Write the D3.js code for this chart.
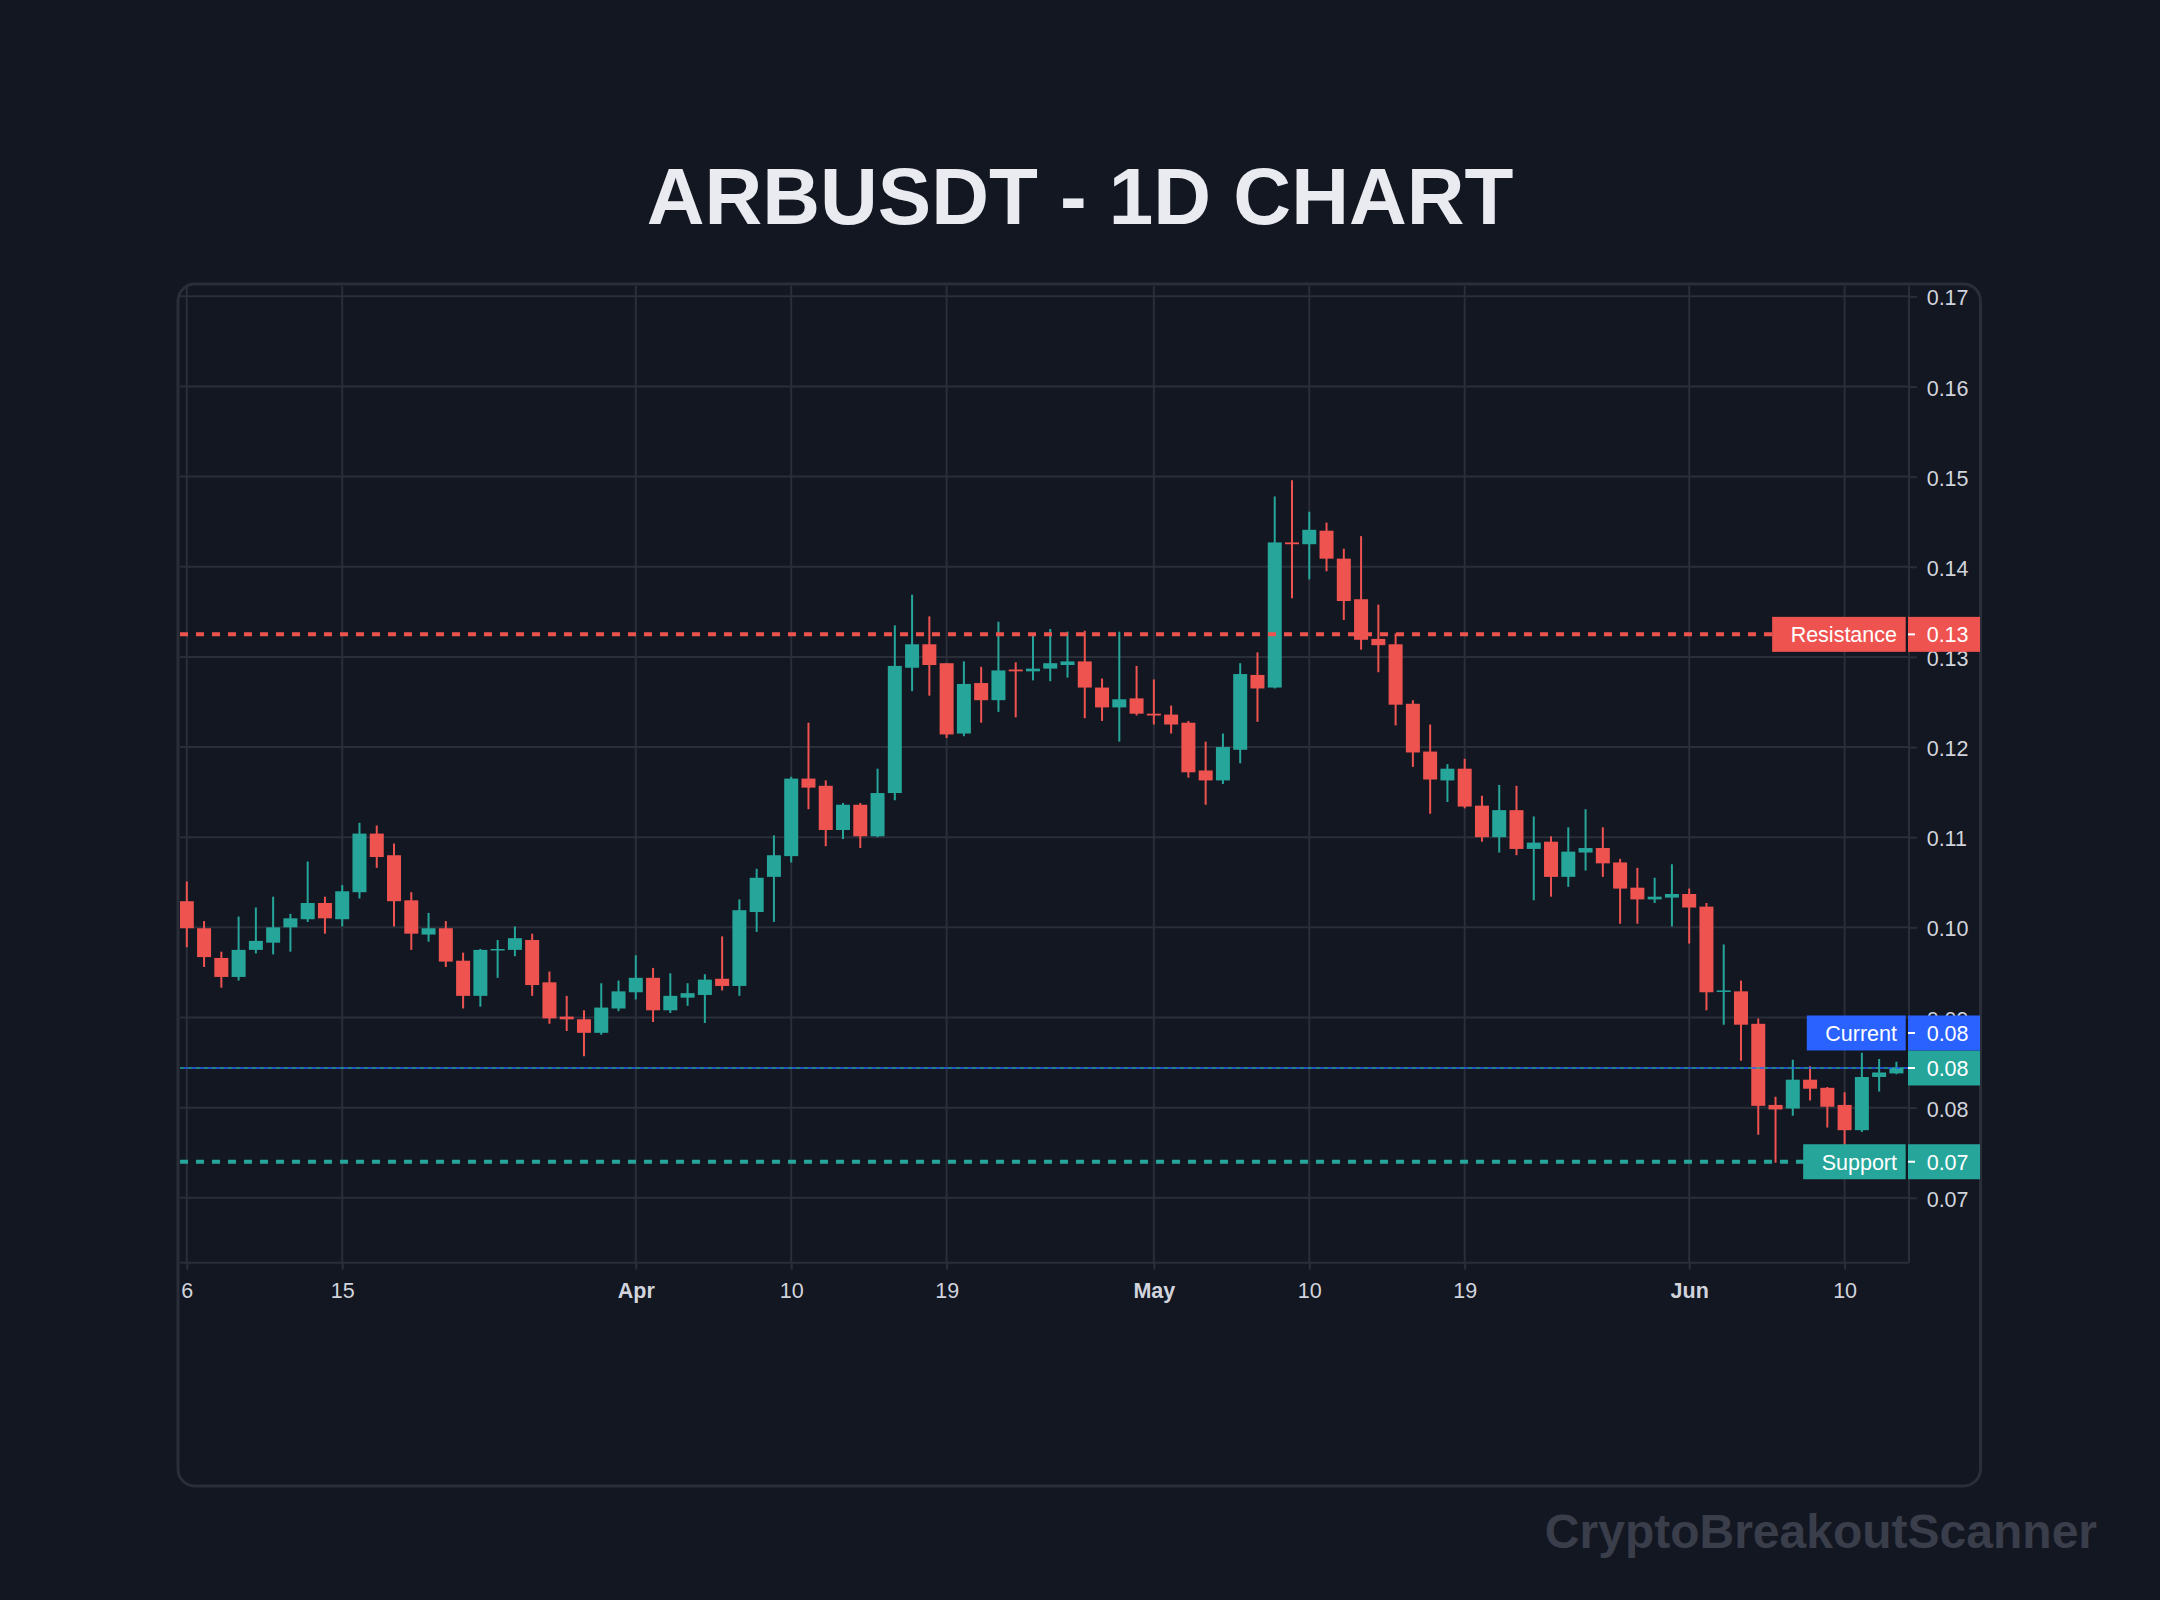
<!DOCTYPE html>
<html><head><meta charset="utf-8">
<script src="https://cdnjs.cloudflare.com/ajax/libs/d3/7.8.5/d3.min.js"></script>
<style>html,body{margin:0;padding:0;background:#131722;}svg{display:block;}</style>
</head><body>
<svg id="chart" width="2160" height="1600"></svg>
<script>
// ---------------- DATA ----------------
const firstDay = "2025-03-06";
const opens  = [0.1029,0.0999,0.0966,0.0945,0.0975,0.0983,0.1000,0.1009,0.1027,0.1009,
                0.1039,0.1104,0.1080,0.1030,0.0992,0.0999,0.0963,0.0924,0.0975,0.0975,
                0.0986,0.0939,0.0901,0.0898,0.0883,0.0910,0.0928,0.0944,0.0908,0.0922,
                0.0925,0.0943,0.0935,0.1017,0.1056,0.1079,0.1165,0.1157,0.1108,0.1136,
                0.1101,0.1149,0.1288,0.1314,0.1293,0.1215,0.1271,0.1252,0.1286,0.1284,
                0.1287,0.1291,0.1295,0.1266,0.1244,0.1254,0.1237,0.1236,0.1227,0.1174,
                0.1163,0.1197,0.1280,0.1266,0.1427,0.1425,0.1440,0.1409,0.1364,0.1320,
                0.1314,0.1248,0.1195,0.1163,0.1176,0.1135,0.1100,0.1130,0.1087,0.1095,
                0.1056,0.1083,0.1088,0.1072,0.1044,0.1031,0.1033,0.1037,0.1023,0.0929,
                0.0929,0.0893,0.0803,0.0799,0.0831,0.0822,0.0803,0.0775,0.0834,0.0838];
const highs  = [0.1051,0.1007,0.0973,0.1012,0.1022,0.1034,0.1015,0.1073,0.1034,0.1047,
                0.1116,0.1113,0.1093,0.1039,0.1016,0.1007,0.0972,0.0976,0.0986,0.1001,
                0.0993,0.0951,0.0924,0.0908,0.0938,0.0941,0.0969,0.0955,0.0949,0.0938,
                0.0948,0.0990,0.1031,0.1065,0.1102,0.1167,0.1227,0.1163,0.1138,0.1138,
                0.1176,0.1335,0.1369,0.1345,0.1293,0.1295,0.1289,0.1339,0.1294,0.1325,
                0.1331,0.1328,0.1329,0.1276,0.1328,0.1290,0.1275,0.1246,0.1229,0.1206,
                0.1215,0.1293,0.1305,0.1478,0.1496,0.1461,0.1449,0.1420,0.1434,0.1358,
                0.1326,0.1252,0.1225,0.1181,0.1187,0.1146,0.1158,0.1157,0.1123,0.1101,
                0.1111,0.1131,0.1111,0.1076,0.1066,0.1055,0.1070,0.1043,0.1027,0.0981,
                0.0941,0.0899,0.0812,0.0853,0.0846,0.0823,0.0817,0.0861,0.0854,0.0851];
const lows   = [0.0978,0.0956,0.0933,0.0941,0.0971,0.0970,0.0973,0.1006,0.0993,0.1001,
                0.1032,0.1066,0.1001,0.0975,0.0984,0.0956,0.0910,0.0912,0.0944,0.0968,
                0.0924,0.0893,0.0885,0.0857,0.0881,0.0907,0.0920,0.0895,0.0905,0.0913,
                0.0894,0.0930,0.0924,0.0995,0.1006,0.1072,0.1131,0.1090,0.1098,0.1088,
                0.1100,0.1141,0.1262,0.1257,0.1210,0.1212,0.1227,0.1239,0.1233,0.1274,
                0.1273,0.1277,0.1232,0.1229,0.1206,0.1235,0.1225,0.1215,0.1166,0.1136,
                0.1159,0.1182,0.1228,0.1265,0.1365,0.1386,0.1395,0.1341,0.1308,0.1283,
                0.1224,0.1178,0.1126,0.1139,0.1132,0.1095,0.1083,0.1080,0.1030,0.1034,
                0.1045,0.1063,0.1056,0.1004,0.1004,0.1027,0.1001,0.0982,0.0908,0.0892,
                0.0852,0.0770,0.0739,0.0791,0.0808,0.0778,0.0755,0.0773,0.0818,0.0837];
const closes = [0.0999,0.0967,0.0945,0.0975,0.0985,0.1000,0.1010,0.1027,0.1010,0.1040,
                0.1104,0.1078,0.1029,0.0993,0.0999,0.0962,0.0924,0.0975,0.0976,0.0988,
                0.0936,0.0899,0.0898,0.0883,0.0911,0.0929,0.0944,0.0908,0.0924,0.0927,
                0.0942,0.0935,0.1019,0.1055,0.1080,0.1165,0.1155,0.1108,0.1136,0.1101,
                0.1149,0.1290,0.1314,0.1291,0.1214,0.1270,0.1252,0.1285,0.1284,0.1287,
                0.1293,0.1295,0.1266,0.1244,0.1253,0.1237,0.1235,0.1225,0.1172,0.1163,
                0.1200,0.1281,0.1265,0.1427,0.1425,0.1441,0.1409,0.1362,0.1319,0.1313,
                0.1247,0.1194,0.1164,0.1176,0.1134,0.1100,0.1130,0.1087,0.1094,0.1056,
                0.1084,0.1088,0.1071,0.1043,0.1031,0.1034,0.1037,0.1022,0.0928,0.0930,
                0.0892,0.0802,0.0798,0.0831,0.0821,0.0801,0.0775,0.0834,0.0839,0.0844];
const priceTicks = [0.07,0.08,0.09,0.10,0.11,0.12,0.13,0.14,0.15,0.16,0.17];
const timeTickDates  = ["2025-03-06","2025-03-15","2025-04-01","2025-04-10","2025-04-19",
                        "2025-05-01","2025-05-10","2025-05-19","2025-06-01","2025-06-10"];
const timeTickLabels = ["6","15","Apr","10","19","May","10","19","Jun","10"];
const timeTickIsMonth = [false,false,true,false,false,true,false,false,true,false];
const resistanceLevel = 0.1325;
const supportLevel = 0.0740;
const currentLevel = 0.0844;
const titleText = "ARBUSDT - 1D CHART";
const watermarkText = "CryptoBreakoutScanner";

// ---------------- LAYOUT ----------------
const BG = "#131722", GRID = "#2a2e39", TXT = "#d1d4dc";
const UP = "#26a69a", DOWN = "#ef5350", BLUE = "#2962ff";
const plotL = 180, plotR = 1909, plotT = 286, plotB = 1262.7;
const FONT = "'Liberation Sans', Arial, sans-serif";

const parse = d3.utcParse("%Y-%m-%d");
const start = parse(firstDay);
const candles = opens.map((o, i) => ({
  date: d3.utcDay.offset(start, i), o, h: highs[i], l: lows[i], c: closes[i]
}));

const x = d3.scaleUtc()
  .domain([parse("2025-03-06"), parse("2025-06-10")])
  .range([186.8, 1844.6]);
const y = d3.scaleLinear().domain([0.0628, 0.1712]).range([plotB, 285.5]);
const dayW = x(parse("2025-03-07")) - x(parse("2025-03-06"));
const bodyW = Math.round(dayW * 0.81);

const svg = d3.select("#chart");
svg.append("rect").attr("width", 2160).attr("height", 1600).attr("fill", BG);

// title
svg.append("text").attr("x", 1080).attr("y", 224).attr("text-anchor", "middle")
  .attr("font-family", FONT).attr("font-weight", "bold").attr("font-size", 80)
  .attr("fill", "#e9ebf0").text(titleText);

// frame
svg.append("rect").attr("x", 178).attr("y", 284).attr("width", 1802.5).attr("height", 1202)
  .attr("rx", 17).attr("fill", "none").attr("stroke", GRID).attr("stroke-width", 3);

// clip
svg.append("clipPath").attr("id", "plotClip").append("rect")
  .attr("x", plotL).attr("y", plotT).attr("width", plotR - plotL).attr("height", plotB - plotT);

const gridG = svg.append("g");
gridG.selectAll("line.h").data(priceTicks).join("line")
  .attr("x1", plotL).attr("x2", plotR).attr("y1", d => y(d)).attr("y2", d => y(d))
  .attr("stroke", GRID).attr("stroke-width", 2);
const tDates = timeTickDates.map(parse);
gridG.selectAll("line.v").data(tDates).join("line")
  .attr("x1", d => x(d)).attr("x2", d => x(d)).attr("y1", plotT).attr("y2", plotB)
  .attr("stroke", GRID).attr("stroke-width", 2);

svg.append("line").attr("x1", plotR).attr("x2", plotR).attr("y1", plotT).attr("y2", plotB)
  .attr("stroke", GRID).attr("stroke-width", 2);
svg.append("line").attr("x1", plotL).attr("x2", plotR).attr("y1", plotB).attr("y2", plotB)
  .attr("stroke", GRID).attr("stroke-width", 2);

// price axis
const yAxis = d3.axisRight(y).tickValues(priceTicks).tickFormat(d3.format(".2f"))
  .tickSize(8).tickPadding(9.7);
const yg = svg.append("g").attr("transform", `translate(${plotR},0)`).call(yAxis);
yg.select(".domain").remove();
yg.selectAll(".tick line").attr("stroke", GRID).attr("stroke-width", 2);
yg.selectAll(".tick text").attr("fill", TXT).attr("font-family", FONT)
  .attr("font-size", 21.5).attr("dy", "0.4em");

// time axis
const xAxis = d3.axisBottom(x).tickValues(tDates)
  .tickFormat((d, i) => timeTickLabels[i]).tickSize(7).tickPadding(13.5);
const xg = svg.append("g").attr("transform", `translate(0,${plotB})`).call(xAxis);
xg.select(".domain").remove();
xg.selectAll(".tick line").attr("stroke", GRID).attr("stroke-width", 2);
xg.selectAll(".tick text").attr("fill", TXT).attr("font-family", FONT)
  .attr("font-size", 21.5)
  .attr("font-weight", (d, i) => timeTickIsMonth[i] ? "bold" : "normal");

// candles
const cg = svg.append("g").attr("clip-path", "url(#plotClip)");
cg.selectAll("line.wick").data(candles).join("line")
  .attr("x1", d => x(d.date)).attr("x2", d => x(d.date))
  .attr("y1", d => y(d.h)).attr("y2", d => y(d.l))
  .attr("stroke", d => d.c >= d.o ? UP : DOWN).attr("stroke-width", 2);
cg.selectAll("rect.body").data(candles).join("rect")
  .attr("x", d => x(d.date) - bodyW / 2).attr("width", bodyW)
  .attr("y", d => y(Math.max(d.o, d.c)))
  .attr("height", d => Math.max(1.5, Math.abs(y(d.o) - y(d.c))))
  .attr("fill", d => d.c >= d.o ? UP : DOWN);

// level lines
const lg = svg.append("g");
function levelLine(p, color, w, dash, offset) {
  lg.append("line").attr("x1", plotL).attr("x2", plotR).attr("y1", y(p)).attr("y2", y(p))
    .attr("stroke", color).attr("stroke-width", w).attr("stroke-dasharray", dash)
    .attr("stroke-dashoffset", offset || 0);
}
levelLine(resistanceLevel, DOWN, 4, "8 8");
levelLine(supportLevel, UP, 4, "8 8");
levelLine(currentLevel, UP, 1.5, "4 4", 0);
levelLine(currentLevel, BLUE, 1.5, "4 4", 4);

// labels
const boxH = 35;
const fmt = d3.format(".2f");
function axisBox(p, yc, color) {
  svg.append("rect").attr("x", 1908).attr("y", yc - boxH / 2).attr("width", 72)
    .attr("height", boxH).attr("fill", color);
  svg.append("line").attr("x1", 1908).attr("x2", 1915).attr("y1", yc).attr("y2", yc)
    .attr("stroke", "#ffffff").attr("stroke-width", 2);
  svg.append("text").attr("x", 1926.7).attr("y", yc + 8).attr("fill", "#ffffff")
    .attr("font-family", FONT).attr("font-size", 21.5).text(fmt(p));
}
function titleBox(yc, color, label) {
  const g = svg.append("g");
  const r = g.append("rect").attr("y", yc - boxH / 2).attr("height", boxH).attr("fill", color);
  const t = g.append("text").attr("x", 1897).attr("y", yc + 8).attr("text-anchor", "end")
    .attr("fill", "#ffffff").attr("font-family", FONT).attr("font-size", 21.5).text(label);
  const w = t.node().getComputedTextLength();
  r.attr("x", 1897 - w - 18.5).attr("width", w + 18.5 + 8.7);
}
const yLast = y(closes[closes.length - 1]);
titleBox(y(resistanceLevel), DOWN, "Resistance");
axisBox(resistanceLevel, y(resistanceLevel), DOWN);
titleBox(y(supportLevel), UP, "Support");
axisBox(supportLevel, y(supportLevel), UP);
axisBox(closes[closes.length - 1], yLast, UP);
titleBox(y(currentLevel) - boxH, BLUE, "Current");
axisBox(currentLevel, y(currentLevel) - boxH, BLUE);

// watermark
svg.append("text").attr("x", 2097).attr("y", 1548).attr("text-anchor", "end")
  .attr("font-family", FONT).attr("font-weight", "bold").attr("font-size", 48)
  .attr("fill", "#3a3e4a").text(watermarkText);
</script>
</body></html>
